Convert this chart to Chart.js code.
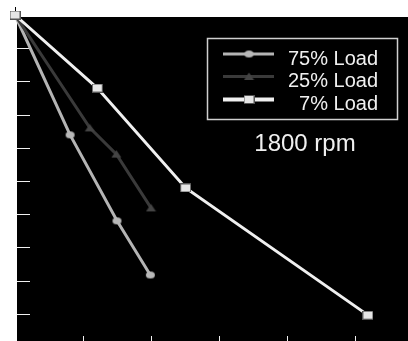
<!DOCTYPE html>
<html>
<head>
<meta charset="utf-8">
<script src="https://cdn.jsdelivr.net/npm/chart.js@4/dist/chart.umd.min.js"></script>
<style>
  html, body { margin: 0; padding: 0; background: #ffffff; }
  #wrap { width: 408px; height: 341px; position: relative; }
</style>
</head>
<body>
<div id="wrap"><canvas id="c" width="408" height="341"></canvas></div>
<script>
// ---- data (axis units = tick intervals) ----
const seriesLabels = ['75% Load', '25% Load', '7% Load'];
const load75X = [0, 0.81, 1.50, 1.99];
const load75Y = [0, 3.61, 6.20, 7.83];
const load25X = [0, 1.10, 1.49, 2.00];
const load25Y = [0, 3.40, 4.19, 5.81];
const load7X  = [0, 1.21, 2.51, 5.19];
const load7Y  = [0, 2.20, 5.21, 9.04];
const xTickValues = [1, 2, 3, 4, 5];
const yTickValues = [1, 2, 3, 4, 5, 6, 7, 8, 9];
const annotationText = '1800 rpm';

function pts(xs, ys) { return xs.map((x, i) => ({ x: x, y: ys[i] })); }

// custom marker images
function makeMarker(kind) {
  const c = document.createElement('canvas');
  c.width = 11; c.height = 9;
  const g = c.getContext('2d');
  if (kind === 'circle') {
    g.fillStyle = '#b8b8b8';
    g.beginPath(); g.ellipse(5.5, 4.5, 4.5, 3.6, 0, 0, Math.PI * 2); g.fill();
  } else if (kind === 'triangle') {
    g.fillStyle = '#444444';
    g.beginPath(); g.moveTo(5.5, 0.5); g.lineTo(10.5, 8); g.lineTo(0.5, 8); g.closePath(); g.fill();
  } else {
    g.fillStyle = '#e6e6e6';
    g.fillRect(0.5, 0.5, 10, 8);
    g.strokeStyle = '#555555'; g.lineWidth = 1;
    g.strokeRect(0.5, 0.5, 10, 8);
  }
  return c;
}
const mCircle = makeMarker('circle');
const mTri = makeMarker('triangle');
const mSq = makeMarker('square');

const bgPlugin = {
  id: 'bg',
  beforeDraw(chart) {
    const { ctx, chartArea: a } = chart;
    ctx.save();
    ctx.fillStyle = '#ffffff';
    ctx.fillRect(0, 0, chart.width, chart.height);
    ctx.fillStyle = '#000000';
    ctx.fillRect(a.left, a.top, a.right - a.left, a.bottom - a.top);
    // inner ticks
    const xs = chart.scales.x, ys = chart.scales.y;
    ctx.strokeStyle = '#f0f0f0';
    ctx.lineWidth = 1;
    yTickValues.forEach(v => {
      const py = Math.round(ys.getPixelForValue(v)) + 0.5;
      ctx.beginPath(); ctx.moveTo(a.left, py); ctx.lineTo(a.left + 13, py); ctx.stroke();
    });
    xTickValues.forEach(v => {
      const px = Math.round(xs.getPixelForValue(v)) + 0.5;
      ctx.beginPath(); ctx.moveTo(px, a.bottom); ctx.lineTo(px, a.bottom - 5); ctx.stroke();
    });
    // small dark tick above the origin
    const ox = Math.round(xs.getPixelForValue(0)) + 0.5;
    ctx.strokeStyle = '#000000';
    ctx.beginPath(); ctx.moveTo(ox, 7); ctx.lineTo(ox, 11); ctx.stroke();
    ctx.restore();
  },
  afterDraw(chart) {
    const ctx = chart.ctx;
    ctx.save();
    // legend box
    ctx.strokeStyle = '#cfcfcf';
    ctx.lineWidth = 1.5;
    ctx.strokeRect(207.5, 38.5, 190, 81);
    const rows = [54, 76.5, 99.5];
    const bases = [64.5, 87, 110];
    chart.data.datasets.forEach((ds, i) => {
      ctx.strokeStyle = ds.borderColor;
      ctx.lineWidth = i === 2 ? 4 : 3;
      ctx.beginPath(); ctx.moveTo(223, rows[i]); ctx.lineTo(274, rows[i]); ctx.stroke();
      const img = ds.pointStyle;
      ctx.drawImage(img, 249 - img.width / 2, rows[i] - img.height / 2);
      ctx.fillStyle = '#f0f0f0';
      ctx.font = '20px "Liberation Sans", Arial, sans-serif';
      ctx.textAlign = 'right';
      ctx.textBaseline = 'alphabetic';
      ctx.fillText(ds.label, 378, bases[i]);
    });
    ctx.font = '24px "Liberation Sans", Arial, sans-serif';
    ctx.textAlign = 'center';
    ctx.fillStyle = '#f0f0f0';
    ctx.fillText(annotationText, 305, 151);
    ctx.restore();
  }
};

new Chart(document.getElementById('c'), {
  type: 'scatter',
  data: {
    datasets: [
      { label: seriesLabels[0], data: pts(load75X, load75Y), showLine: true, order: 2,
        borderColor: '#b4b4b4', borderWidth: 3, pointStyle: mCircle, clip: false },
      { label: seriesLabels[1], data: pts(load25X, load25Y), showLine: true, order: 1,
        borderColor: '#3a3a3a', borderWidth: 3, pointStyle: mTri, clip: false },
      { label: seriesLabels[2], data: pts(load7X, load7Y), showLine: true, order: 0,
        borderColor: '#f0f0f0', borderWidth: 3, pointStyle: mSq, clip: false }
    ]
  },
  options: {
    responsive: false,
    animation: false,
    layout: { autoPadding: false, padding: { left: 17, top: 17, right: 0, bottom: 0 } },
    plugins: { legend: { display: false }, tooltip: { enabled: false } },
    scales: {
      x: { type: 'linear', display: false, min: 2 / 68, max: 2 / 68 + 391 / 68 },
      y: { type: 'linear', display: false, reverse: true, min: 2 / 33.2, max: 2 / 33.2 + 324 / 33.2 }
    }
  },
  plugins: [bgPlugin]
});
</script>
</body>
</html>
